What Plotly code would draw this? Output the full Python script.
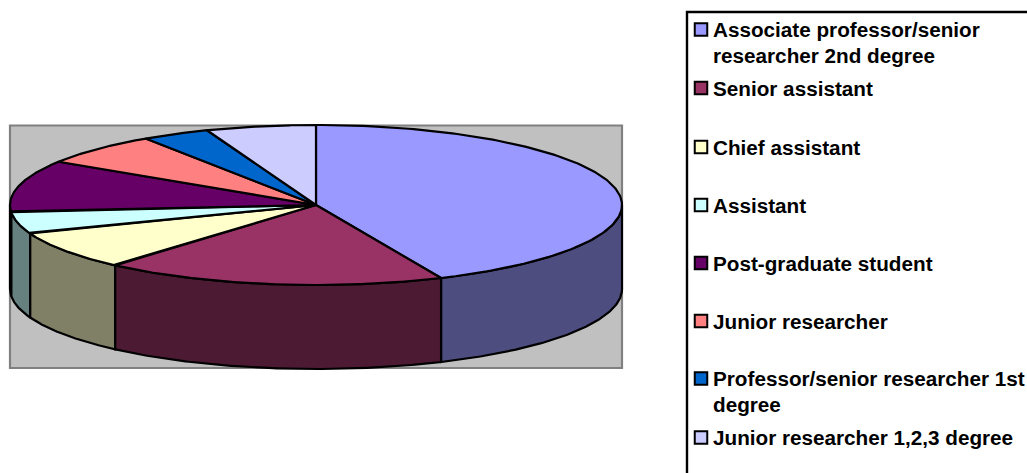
import numpy as np
import plotly.graph_objects as go

categories = [
    "Associate professor/senior<br>researcher 2nd degree",
    "Senior assistant",
    "Chief assistant",
    "Assistant",
    "Post-graduate student",
    "Junior researcher",
    "Professor/senior researcher 1st<br>degree",
    "Junior researcher 1,2,3 degree",
]
values = [43.3, 18.1, 7.8, 4.4, 10.5, 6.5, 3.6, 5.8]
colors = ["#9999FF", "#993366", "#FFFFCC", "#CCFFFF", "#660066", "#FF8080", "#0066CC", "#CCCCFF"]
side_colors = ["#4D4D80", "#4D1A33", "#808066", "#668080", "#330033", "#804040", "#003366", "#666680"]
legend_y = [29.5, 88, 147, 205, 263, 321, 378.5, 437.5]

CX, CY, RX, RY, DEPTH = 316, 205, 306, 80, 84
W, H = 1027, 473
LINE = 2.2


def ex(deg):
    return CX + RX * np.sin(np.radians(deg))


def ey(deg, drop=0):
    return CY - RY * np.cos(np.radians(deg)) + drop


fig = go.Figure()
edges = np.concatenate([[0], np.cumsum(values) / sum(values) * 360])

# plot-area wall
fig.add_shape(type="rect", x0=10, x1=622, y0=125.5, y1=368,
              line=dict(color="#808080", width=2.2), fillcolor="#C0C0C0", layer="below")

# visible outer walls
for i in range(len(values)):
    a, b = max(edges[i], 90), min(edges[i + 1], 270)
    if b <= a:
        continue
    t = np.linspace(a, b, 100)
    xs = np.concatenate([ex(t), ex(t[::-1])])
    ys = np.concatenate([ey(t), ey(t[::-1], DEPTH)])
    fig.add_trace(go.Scatter(x=np.append(xs, xs[0]), y=np.append(ys, ys[0]), mode="lines",
                             fill="toself", fillcolor=side_colors[i],
                             line=dict(color="black", width=LINE), hoverinfo="skip"))

# top faces
for i in range(len(values)):
    t = np.linspace(edges[i], edges[i + 1], 160)
    xs = np.concatenate([[CX], ex(t), [CX]])
    ys = np.concatenate([[CY], ey(t), [CY]])
    fig.add_trace(go.Scatter(x=xs, y=ys, mode="lines", fill="toself", fillcolor=colors[i],
                             line=dict(color="black", width=LINE), hoverinfo="skip"))

# legend box
fig.add_shape(type="rect", x0=687, x1=1060, y0=12, y1=500,
              line=dict(color="black", width=2.4), fillcolor="rgba(0,0,0,0)")
fig.add_trace(go.Scatter(x=[701] * len(values), y=legend_y, mode="markers",
                         marker=dict(symbol="square", size=12.5, color=colors,
                                     line=dict(color="black", width=2)),
                         hoverinfo="skip"))
for label, y in zip(categories, legend_y):
    for j, part in enumerate(label.split("<br>")):
        fig.add_annotation(x=713, y=y + j * 25.5, text="<b>" + part + "</b>", showarrow=False,
                           xanchor="left", yanchor="middle", xref="x", yref="y",
                           font=dict(family="Liberation Sans", size=20.7, color="black"),
                           borderpad=0, borderwidth=0)

fig.update_layout(
    width=W, height=H, showlegend=False, margin=dict(l=0, r=0, t=0, b=0),
    paper_bgcolor="white", plot_bgcolor="white",
    xaxis=dict(range=[0, W], visible=False, fixedrange=True),
    yaxis=dict(range=[H, 0], visible=False, fixedrange=True),
)
fig.write_html("out.html", config={"displayModeBar": False},
               default_width=f"{W}px", default_height=f"{H}px",
               post_script="document.body.style.margin='0';")
